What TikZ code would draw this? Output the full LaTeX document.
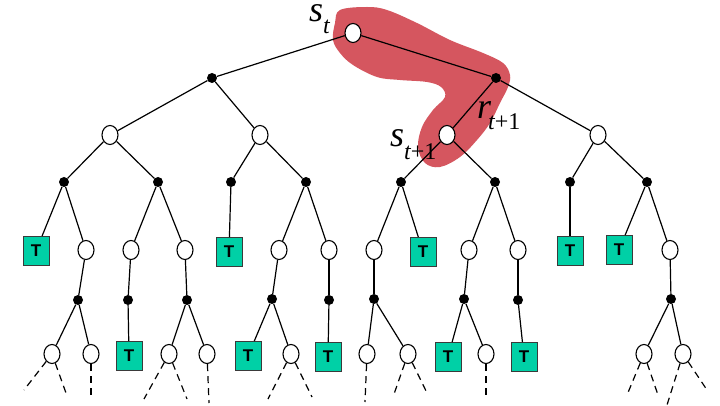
\documentclass[tikz,border=0pt]{standalone}
\usepackage{fontspec}
\setmainfont{Liberation Serif}
\setsansfont{Liberation Sans}
\usetikzlibrary{shapes.geometric}
\definecolor{hilite}{HTML}{D5565F}
\definecolor{termfill}{HTML}{00D0A6}
\definecolor{termedge}{HTML}{3A3A3A}
\tikzset{
  state/.style ={ellipse, draw=black, fill=white, line width=1.1pt, inner sep=0pt,
                 minimum width=16pt, minimum height=19pt},
  act/.style   ={circle, fill=black, inner sep=0pt, minimum size=10pt},
  % terminal state: teal box
  term/.style  ={rectangle, draw=termedge, fill=termfill, line width=0.9pt, inner sep=0pt,
                 minimum width=26pt, minimum height=29pt,
                 font=\sffamily\bfseries\fontsize{17}{17}\selectfont},
  link/.style  ={line width=1.2pt, black},
  cont/.style  ={link, dash pattern=on 7pt off 5pt},
  lbl/.style   ={inner sep=0pt, anchor=base west, font=\fontsize{36}{36}\selectfont\itshape},
}
\newcommand{\lowsub}[2]{\raisebox{-#1}{\fontsize{24}{24}\selectfont #2}}

\begin{document}
\begin{tikzpicture}[x=1pt, y=-1pt]
    \useasboundingbox (0,0) rectangle (720,406);
    \fill[hilite] plot[smooth cycle, tension=0.6] coordinates {
      (340,10) (367,7) (387,10) (417,23) (450,40) (483,53) (503,63) (510,75)
      (508,87) (500,103) (490,123) (477,140) (460,157) (440,167) (425,163)
      (418,147) (422,127) (433,110) (445,97) (441,87) (427,82) (400,80)
      (377,77) (353,65) (340,53) (333,40) (335,23)};
    \node[state] (s0) at (353,33) {};
    \node[act] (a1) at (212,78) {};   \node[act] (a2) at (496,78) {};
    \node[state] (s1) at (110,135) {}; \node[state] (s2) at (260,135) {};
    \node[state] (s3) at (447,135) {}; \node[state] (s4) at (598,135) {};
    \node[act] (a11) at (64,182) {};  \node[act] (a12) at (158,182) {};
    \node[act] (a21) at (231,182) {}; \node[act] (a22) at (306,182) {};
    \node[act] (a31) at (401,182) {}; \node[act] (a32) at (495,182) {};
    \node[act] (a41) at (570,182) {}; \node[act] (a42) at (647,182) {};
    \node[term] (t1) at (36,251) {T};   \node[state] (s11) at (86,250) {};
    \node[state] (s12) at (131,250) {}; \node[state] (s13) at (185,250) {};
    \node[term] (t2) at (229,252) {T};
    \node[state] (s21) at (279,250) {}; \node[state] (s22) at (329,250) {};
    \node[state] (s31) at (374,250) {}; \node[term] (t3) at (423,252) {T};
    \node[state] (s32) at (469,250) {}; \node[state] (s33) at (518,250) {};
    \node[term] (t4) at (570,251) {T};
    \node[term] (t5) at (619,250) {T};  \node[state] (s41) at (670,250) {};
    \node[act] (b1) at (78,300) {};  \node[act] (b2) at (128,300) {};
    \node[act] (b3) at (187,300) {}; \node[act] (b4) at (272,299) {};
    \node[act] (b5) at (329,300) {}; \node[act] (b6) at (374,299) {};
    \node[act] (b7) at (464,299) {}; \node[act] (b8) at (518,300) {};
    \node[act] (b9) at (671,299) {};
    \node[state] (c1) at (52,354) {};  \node[state] (c2) at (91,354) {};
    \node[term] (t6) at (129,356) {T};
    \node[state] (c3) at (169,354) {}; \node[state] (c4) at (207,354) {};
    \node[term] (t7) at (248,356) {T}; \node[state] (c5) at (291,354) {};
    \node[term] (t8) at (328,357) {T};
    \node[state] (c6) at (367,354) {}; \node[state] (c7) at (408,354) {};
    \node[term] (t9) at (448,357) {T}; \node[state] (c8) at (486,354) {};
    \node[term] (t10) at (524,357) {T};
    \node[state] (c9) at (644,354) {}; \node[state] (c10) at (683,354) {};
    \draw[link] (s0) -- (a1);   \draw[link] (s0) -- (a2);
    \draw[link] (a1) -- (s1);   \draw[link] (a1) -- (s2);
    \draw[link] (a2) -- (s3);   \draw[link] (a2) -- (s4);
    \draw[link] (s1) -- (a11);  \draw[link] (s1) -- (a12);
    \draw[link] (s2) -- (a21);  \draw[link] (s2) -- (a22);
    \draw[link] (s3) -- (a31);  \draw[link] (s3) -- (a32);
    \draw[link] (s4) -- (a41);  \draw[link] (s4) -- (a42);
    \draw[link] (a11) -- (t1);  \draw[link] (a11) -- (s11);
    \draw[link] (a12) -- (s12); \draw[link] (a12) -- (s13);
    \draw[link] (a21) -- (t2);
    \draw[link] (a22) -- (s21); \draw[link] (a22) -- (s22);
    \draw[link] (a31) -- (s31); \draw[link] (a31) -- (t3);
    \draw[link] (a32) -- (s32); \draw[link] (a32) -- (s33);
    \draw[link] (a41) -- (t4);
    \draw[link] (a42) -- (t5);  \draw[link] (a42) -- (s41);
    \draw[link] (s11) -- (b1);  \draw[link] (s12) -- (b2);
    \draw[link] (s13) -- (b3);  \draw[link] (s21) -- (b4);
    \draw[link] (s22) -- (b5);  \draw[link] (s31) -- (b6);
    \draw[link] (s32) -- (b7);  \draw[link] (s33) -- (b8);
    \draw[link] (s41) -- (b9);
    \draw[link] (b1) -- (c1);   \draw[link] (b1) -- (c2);
    \draw[link] (b2) -- (t6);
    \draw[link] (b3) -- (c3);   \draw[link] (b3) -- (c4);
    \draw[link] (b4) -- (t7);   \draw[link] (b4) -- (c5);
    \draw[link] (b5) -- (t8);
    \draw[link] (b6) -- (c6);   \draw[link] (b6) -- (c7);
    \draw[link] (b7) -- (t9);   \draw[link] (b7) -- (c8);
    \draw[link] (b8) -- (t10);
    \draw[link] (b9) -- (c9);   \draw[link] (b9) -- (c10);
    \coordinate (e1) at (24,390);   \coordinate (e2) at (66,393);
    \coordinate (e3) at (91,398);
    \coordinate (e4) at (144,399);  \coordinate (e5) at (187,399);
    \coordinate (e6) at (209,403);
    \coordinate (e7) at (268,399);  \coordinate (e8) at (312,397);
    \coordinate (e9) at (365,402);
    \coordinate (e10) at (393,397); \coordinate (e11) at (428,395);
    \coordinate (e12) at (486,397);
    \coordinate (e13) at (627,395); \coordinate (e14) at (658,395);
    \coordinate (e15) at (667,405); \coordinate (e16) at (707,390);
    \draw[cont] (c1) -- (e1);   \draw[cont] (c1) -- (e2);
    \draw[cont] (c2) -- (e3);
    \draw[cont] (c3) -- (e4);   \draw[cont] (c3) -- (e5);
    \draw[cont] (c4) -- (e6);
    \draw[cont] (c5) -- (e7);   \draw[cont] (c5) -- (e8);
    \draw[cont] (c6) -- (e9);
    \draw[cont] (c7) -- (e10);  \draw[cont] (c7) -- (e11);
    \draw[cont] (c8) -- (e12);
    \draw[cont] (c9) -- (e13);  \draw[cont] (c9) -- (e14);
    \draw[cont] (c10) -- (e15); \draw[cont] (c10) -- (e16);
    \node[lbl] (lst) at (309,22)  {s\lowsub{12pt}{t}};
    \node[lbl] (lrw) at (477,119) {r\kern-3pt\lowsub{11pt}{t\upshape +1}};
    \node[lbl] (lsn) at (390,147) {s\lowsub{13pt}{t\upshape +1}};
  \end{tikzpicture}
\end{document}
